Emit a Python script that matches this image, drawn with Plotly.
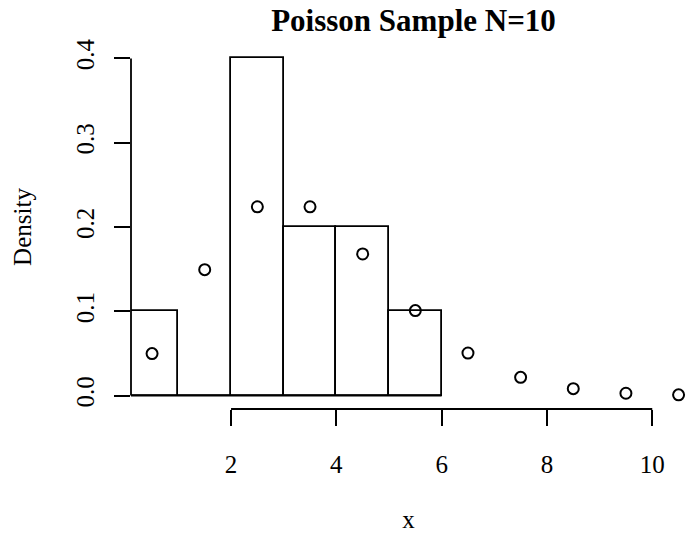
import plotly.graph_objects as go

# Histogram (density) of the Poisson sample, N=10
breaks = [0, 1, 2, 3, 4, 5, 6]
density = [0.1, 0.0, 0.4, 0.2, 0.2, 0.1]

# Poisson(3) probabilities drawn at k + 0.5
pts_x = [0.5, 1.5, 2.5, 3.5, 4.5, 5.5, 6.5, 7.5, 8.5, 9.5, 10.5]
pts_y = [0.0498, 0.1494, 0.2240, 0.2240, 0.1680, 0.1008, 0.0504, 0.0216, 0.0081, 0.0027, 0.0008]

x_ticks = [2, 4, 6, 8, 10]
y_ticks = [0.0, 0.1, 0.2, 0.3, 0.4]

FONT = "Liberation Serif"
LW = 1.8

centers = [(a + b) / 2 for a, b in zip(breaks[:-1], breaks[1:])]
widths = [b - a for a, b in zip(breaks[:-1], breaks[1:])]

fig = go.Figure()
fig.add_trace(go.Bar(
    x=centers, y=density, width=widths,
    marker=dict(color="white", line=dict(color="black", width=LW)),
    hoverinfo="skip", showlegend=False,
))
fig.add_trace(go.Scatter(
    x=pts_x, y=pts_y, mode="markers", cliponaxis=False,
    marker=dict(symbol="circle-open", size=11, color="black", line=dict(width=2, color="black")),
    showlegend=False,
))

shapes = [
    # baseline under the histogram
    dict(type="line", xref="x", yref="y", x0=breaks[0], x1=breaks[-1], y0=0, y1=0,
         line=dict(color="black", width=LW)),
    # x axis line spanning the ticks
    dict(type="line", xref="x", yref="paper", x0=x_ticks[0], x1=x_ticks[-1], y0=0, y1=0,
         line=dict(color="black", width=LW)),
    # y axis line spanning the ticks
    dict(type="line", xref="paper", yref="y", x0=0, x1=0, y0=y_ticks[0], y1=y_ticks[-1],
         line=dict(color="black", width=LW)),
]

fig.update_layout(
    width=686, height=533,
    margin=dict(l=131, r=0, t=45, b=124),
    paper_bgcolor="white", plot_bgcolor="white",
    font=dict(family=FONT, size=25, color="black"),
    bargap=0,
    shapes=shapes,
    title=dict(text="<b>Poisson Sample N=10</b>", x=0.509, xref="paper", xanchor="center",
               y=0.9628, yref="container", yanchor="middle",
               font=dict(family=FONT, size=31, color="black")),
    xaxis=dict(range=[0.1, 10.641], tickvals=x_ticks, ticktext=[str(v) for v in x_ticks],
               ticks="outside", ticklen=16, tickwidth=LW, tickcolor="black",
               tickfont=dict(family=FONT, size=25),
               showline=False, showgrid=False, zeroline=False,
               title=dict(text="x", standoff=40, font=dict(family=FONT, size=25)),
               automargin=False, ticklabelstandoff=17),
    yaxis=dict(range=[-0.016, 0.416], tickvals=y_ticks, ticktext=[f"{v:.1f}" for v in y_ticks],
               ticks="outside", ticklen=16, tickwidth=LW, tickcolor="black", tickangle=-90,
               tickfont=dict(family=FONT, size=25),
               showline=False, showgrid=False, zeroline=False,
               title=dict(text="Density", standoff=33, font=dict(family=FONT, size=25)),
               automargin=False, ticklabelstandoff=10),
)

fig.write_html("out.html")
